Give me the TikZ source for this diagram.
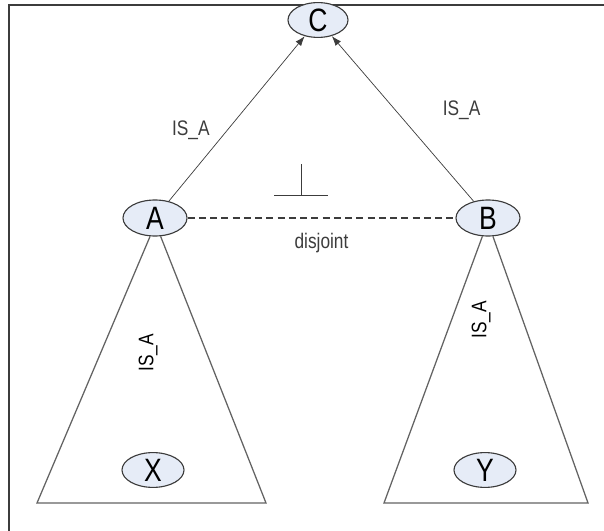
\documentclass[tikz,border=0pt]{standalone}
\usepackage{fontspec}
\setmainfont{Liberation Sans}
\newfontfamily\narrowfont[FakeStretch=0.82]{Liberation Sans}
\definecolor{nodefill}{RGB}{230,236,247}
\definecolor{linegray}{RGB}{60,60,60}
\usetikzlibrary{arrows.meta,positioning,shapes.geometric}

\begin{document}
\begin{tikzpicture}[x=0.025cm, y=-0.025cm,
    concept/.style={ellipse, draw=linegray, fill=nodefill, line width=0.8pt,
      minimum width=1.6cm, minimum height=0.9cm, inner sep=0pt,
      font=\narrowfont\fontsize{23}{23}\selectfont},
    isa/.style={-{Latex[length=7pt,width=5pt]}, linegray, line width=0.5pt},
    tri/.style={linegray!80, line width=0.9pt},
    lbl/.style={font=\narrowfont\fontsize{15}{15}\selectfont}
  ]
    \useasboundingbox (0,0) rectangle (604,531);
    % frame
    \draw[linegray, line width=1.2pt] (9,531) -- (9,5) -- (604,5);

    \node[concept, minimum width=1.5cm, minimum height=0.87cm] (C) at (318,20) {C};
    \node[concept] (A) at (155,218) {A};
    \node[concept] (B) at (488,218) {B};
    \node[concept, minimum width=1.55cm, minimum height=0.87cm] (X) at (153,470) {X};
    \node[concept, minimum width=1.55cm, minimum height=0.87cm] (Y) at (485,470) {Y};

    \draw[isa] (A) -- (C) node[lbl, pos=0.43, left=9pt] {IS\_A};
    \draw[isa] (B) -- (C) node[lbl, pos=0.55, right=30pt] {IS\_A};

    % disjointness
    \draw[linegray, line width=0.8pt, dash pattern=on 5pt off 3pt] (A.east) -- (B.west)
      node[lbl, midway, below=7pt] {disjoint};
    \coordinate (perp) at (301,195);
    \draw[linegray, line width=0.6pt] (perp) -- ++(0,-31);
    \draw[linegray, line width=0.6pt] ([xshift=-19]perp) -- ([xshift=19]perp);

    % subtrees
    \coordinate (xl) at (37,503);
    \coordinate (xr) at (266,503);
    \coordinate (yl) at (384,503);
    \coordinate (yr) at (588,503);
    \draw[tri] (A.255) -- (xl) -- (xr) -- (A.287);
    \draw[tri] (B.253) -- (yl) -- (yr) -- (B.285);
    \node[lbl, rotate=90] (isax) at (148,353) {IS\_A};
    \node[lbl, rotate=90] (isay) at (481,320) {IS\_A};
\end{tikzpicture}
\end{document}
